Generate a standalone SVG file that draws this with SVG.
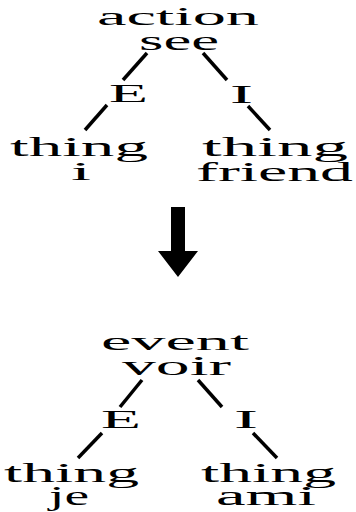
<svg xmlns="http://www.w3.org/2000/svg" width="356" height="512" viewBox="0 0 356 512">
<style>
text{font-family:"Liberation Serif","Times New Roman",serif;fill:#000}
.c{stroke:#000;stroke-width:3.5;fill:none}
</style>
<rect width="356" height="512" fill="#fff"/>
<g id="connectors">
<line class="c" x1="147" y1="53" x2="123" y2="80"/>
<line class="c" x1="107" y1="105" x2="85" y2="130"/>
<line class="c" x1="203" y1="53" x2="227" y2="80"/>
<line class="c" x1="248" y1="106" x2="270" y2="130"/>
<line class="c" x1="142" y1="380" x2="120" y2="407"/>
<line class="c" x1="102" y1="433" x2="78" y2="458"/>
<line class="c" x1="198" y1="380" x2="222" y2="407"/>
<line class="c" x1="253" y1="433" x2="277" y2="458"/>
</g>
<g id="arrow">
<polygon points="171,207 185,207 185,251 198,251 178,277 158,251 171,251" fill="#000"/>
</g>
<g font-size="26">
<g id="n-top"><text x="97" y="25" textLength="162" lengthAdjust="spacingAndGlyphs">action</text><text x="139" y="50" font-size="27" textLength="80" lengthAdjust="spacingAndGlyphs">see</text></g>
<g id="n-E1"><text x="109" y="102" textLength="39" lengthAdjust="spacingAndGlyphs">E</text></g>
<g id="n-I1"><text x="230" y="103" textLength="23" lengthAdjust="spacingAndGlyphs">I</text></g>
<g id="n-thing1"><text x="10" y="156" font-size="27" textLength="138" lengthAdjust="spacingAndGlyphs">thing</text><text x="71" y="180" textLength="20" lengthAdjust="spacingAndGlyphs">i</text></g>
<g id="n-thing2"><text x="202" y="156" font-size="27" textLength="146" lengthAdjust="spacingAndGlyphs">thing</text><text x="196" y="181" font-size="28" textLength="157" lengthAdjust="spacingAndGlyphs">friend</text></g>
<g id="n-bot"><text x="101" y="350" textLength="148" lengthAdjust="spacingAndGlyphs">event</text><text x="122" y="375" font-size="28" textLength="109" lengthAdjust="spacingAndGlyphs">voir</text></g>
<g id="n-E2"><text x="101" y="428" textLength="40" lengthAdjust="spacingAndGlyphs">E</text></g>
<g id="n-I2"><text x="234" y="428" textLength="24" lengthAdjust="spacingAndGlyphs">I</text></g>
<g id="n-thing3"><text x="4" y="482" font-size="27" textLength="135" lengthAdjust="spacingAndGlyphs">thing</text><text x="49" y="505" font-size="27" textLength="40" lengthAdjust="spacingAndGlyphs">je</text></g>
<g id="n-thing4"><text x="201" y="482" font-size="27" textLength="135" lengthAdjust="spacingAndGlyphs">thing</text><text x="216" y="505" font-size="27" textLength="100" lengthAdjust="spacingAndGlyphs">ami</text></g>
</g>
</svg>
